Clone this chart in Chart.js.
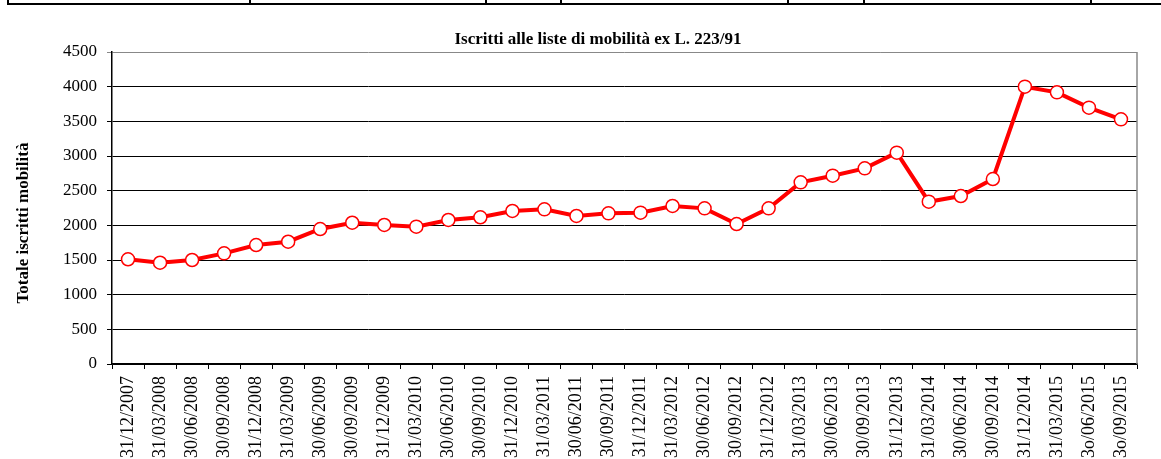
<!DOCTYPE html>
<html>
<head>
<meta charset="utf-8">
<script src="https://cdn.jsdelivr.net/npm/chart.js@4"></script>
<style>
  body { margin: 0; background: #fff; overflow: hidden; }
  #wrap { position: relative; width: 1161px; height: 459px; overflow: hidden; }
  #tabella { position: absolute; left: 7px; top: 0; width: 1160px; height: 3px; border: 2px solid #000; border-top: none; }
  .sep { position: absolute; top: 0; bottom: 0; border-left: 2px solid #000; }
  #grafico { position: absolute; left: 0; top: 0; }
</style>
</head>
<body>
<div id="wrap">
  <div id="tabella">
    <div class="sep" style="left:240px"></div>
    <div class="sep" style="left:476px"></div>
    <div class="sep" style="left:551px"></div>
    <div class="sep" style="left:778px"></div>
    <div class="sep" style="left:854px"></div>
    <div class="sep" style="left:1081px"></div>
  </div>
  <canvas id="grafico" width="1161" height="540"></canvas>
</div>
<script>
const titolo = 'Iscritti alle liste di mobilità ex L. 223/91'
const titoloY = 'Totale iscritti mobilità'

const date = [
  '31/12/2007', '31/03/2008', '30/06/2008', '30/09/2008',
  '31/12/2008', '31/03/2009', '30/06/2009', '30/09/2009',
  '31/12/2009', '31/03/2010', '30/06/2010', '30/09/2010',
  '31/12/2010', '31/03/2011', '30/06/2011', '30/09/2011',
  '31/12/2011', '31/03/2012', '30/06/2012', '30/09/2012',
  '31/12/2012', '31/03/2013', '30/06/2013', '30/09/2013',
  '31/12/2013', '31/03/2014', '30/06/2014', '30/09/2014',
  '31/12/2014', '31/03/2015', '3o/06/2015', '3o/09/2015'
]

const iscritti = [
  1510, 1461, 1500, 1596,
  1716, 1764, 1947, 2038,
  2005, 1981, 2077, 2116,
  2207, 2231, 2135, 2173,
  2183, 2279, 2245, 2019,
  2245, 2620, 2716, 2822,
  3048, 2341, 2423, 2668,
  4000, 3918, 3697, 3529
]

const asseYmin = 0
const asseYmax = 4500
const passoY = 500

const serif = '"Liberation Serif", "Times New Roman", serif'
const H = 540

// titolo, titolo asse Y e bordo destro grigio
const cornice = {
  id: 'cornice',
  afterDraw(chart) {
    const ctx = chart.ctx
    const a = chart.chartArea
    ctx.save()
    ctx.strokeStyle = '#888'
    ctx.lineWidth = 1.5
    ctx.beginPath()
    ctx.moveTo(a.right, a.top)
    ctx.lineTo(a.right, a.bottom)
    ctx.stroke()
    ctx.fillStyle = '#000'
    ctx.font = 'bold 17px ' + serif
    ctx.textAlign = 'center'
    ctx.textBaseline = 'alphabetic'
    ctx.fillText(titolo, 598, 43.5)
    ctx.translate(27.5, 223)
    ctx.rotate(-Math.PI / 2)
    ctx.fillText(titoloY, 0, 0)
    ctx.restore()
  }
}

const ctx = document.getElementById('grafico')
const grafico = new Chart(ctx, {
  type: 'line',
  data: {
    labels: date,
    datasets: [{
      data: iscritti,
      borderColor: '#ff0000',
      borderWidth: 4,
      tension: 0,
      pointRadius: 6.5,
      pointBackgroundColor: '#ffffff',
      pointBorderColor: '#ff0000',
      pointBorderWidth: 1.5
    }]
  },
  options: {
    responsive: false,
    animation: false,
    layout: { padding: { top: 52, right: 24, left: 0, bottom: 0 } },
    plugins: {
      legend: { display: false },
      tooltip: { enabled: false },
      title: { display: false }
    },
    scales: {
      x: {
        offset: true,
        grid: { offset: true, drawOnChartArea: false, drawTicks: true, tickLength: 5, color: '#000' },
        border: { color: '#000', width: 1.5 },
        ticks: {
          autoSkip: false, maxRotation: 90, minRotation: 90, padding: 7,
          color: '#000', font: { family: serif, size: 18 }
        },
        afterFit: s => { s.height = H - 364 }
      },
      y: {
        min: asseYmin,
        max: asseYmax,
        grid: {
          color: c => (c.tick && c.tick.value === asseYmax) ? '#888' : '#000',
          lineWidth: 1, tickLength: 5
        },
        border: { color: '#000', width: 1.5 },
        ticks: {
          stepSize: passoY, padding: 10, color: '#000',
          font: { family: serif, size: 17 },
          callback: v => String(v)
        },
        afterFit: s => { s.width = 112 }
      }
    }
  },
  plugins: [cornice]
})
</script>
</body>
</html>
